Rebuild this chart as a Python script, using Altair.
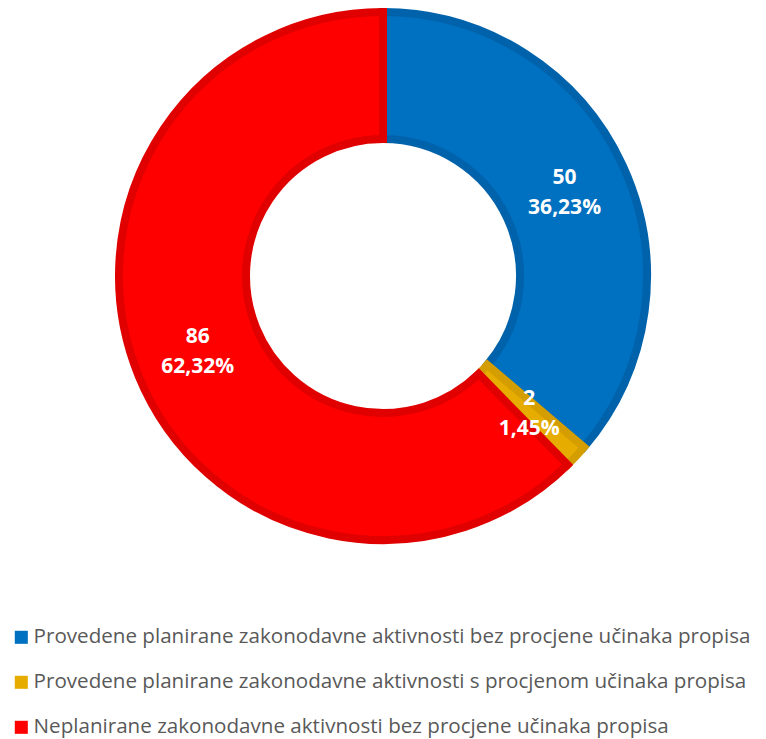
import altair as alt
import pandas as pd

categories = [
    "Provedene planirane zakonodavne aktivnosti bez procjene učinaka propisa",
    "Provedene planirane zakonodavne aktivnosti s procjenom učinaka propisa",
    "Neplanirane zakonodavne aktivnosti bez procjene učinaka propisa",
]
values = [50, 2, 86]
percent_labels = ["36,23%", "1,45%", "62,32%"]
colors = ["#0070C0", "#E6AC00", "#FF0000"]
border_colors = ["#0062AA", "#D49E00", "#E00000"]

df = pd.DataFrame({
    "category": categories,
    "value": values,
    "pct": percent_labels,
    "order": list(range(len(categories))),
    "border": border_colors,
})
df["label"] = df["value"].astype(str) + "\n" + df["pct"]

base = alt.Chart(df).encode(
    theta=alt.Theta("value:Q", stack=True),
    order=alt.Order("order:Q"),
    x=alt.value(375),
    y=alt.value(268),
)

color_enc = alt.Color(
    "category:N",
    scale=alt.Scale(domain=categories, range=colors),
    sort=categories,
    legend=alt.Legend(
        title=None,
        orient="none",
        legendX=3,
        legendY=619,
        direction="vertical",
        symbolType="square",
        symbolSize=170,
        symbolStrokeWidth=0,
        labelFont="Open Sans",
        labelFontSize=20.6,
        labelColor="#595959",
        labelLimit=0,
        labelOffset=2,
        rowPadding=24,
    ),
)

arcs = base.mark_arc(outerRadius=264, innerRadius=137, strokeWidth=8).encode(
    color=color_enc,
    stroke=alt.Stroke("border:N", scale=None),
)

labels = base.mark_text(
    radius=200,
    dy=-14,
    font="Open Sans",
    fontSize=21,
    fontWeight="bold",
    color="white",
    lineBreak="\n",
    lineHeight=30,
).encode(text="label:N")

chart = (arcs + labels).properties(
    width=750, height=731, padding=0,
    autosize=alt.AutoSizeParams(type="none"),
).configure_view(stroke=None)

chart.save("out.html", embed_options={"renderer": "svg", "actions": False})
